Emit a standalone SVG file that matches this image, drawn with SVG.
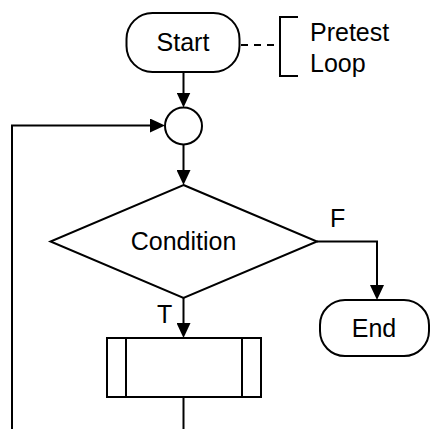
<svg xmlns="http://www.w3.org/2000/svg" width="430" height="429" viewBox="0 0 430 429">
<style>
.s{fill:#fff;stroke:#000;stroke-width:2}
.l{fill:none;stroke:#000;stroke-width:2}
.t{font-family:"Liberation Sans",Arial,sans-serif;font-size:25px;fill:#000}
.c{text-anchor:middle}
</style>
<defs>
<marker id="arr" viewBox="0 0 15 14" refX="11" refY="7" markerWidth="15" markerHeight="14" orient="auto" markerUnits="userSpaceOnUse">
<path d="M0,0 L15,7 L0,14 z" fill="#000"/>
</marker>
</defs>
<rect width="430" height="429" fill="#fff"/>
<g id="connectors">
<line class="l" x1="241" y1="45" x2="280" y2="45" stroke-dasharray="7 6"/>
<path class="l" d="M183.5,72 V103.5" marker-end="url(#arr)"/>
<path class="l" d="M183.5,144.5 V181" marker-end="url(#arr)"/>
<path class="l" d="M317,241.5 H377 V296" marker-end="url(#arr)"/>
<path class="l" d="M183.5,298 V334" marker-end="url(#arr)"/>
<path class="l" d="M183.5,397 V429"/>
<path class="l" d="M12,429 V125.5 H161" marker-end="url(#arr)"/>
</g>
<g id="start">
<rect class="s" x="126.5" y="13" width="113" height="59" rx="26" ry="26"/>
<text class="t c" x="183" y="51">Start</text>
</g>
<g id="annotation">
<path class="l" d="M298,17 H280 V76 H298"/>
<text class="t" x="310" y="41">Pretest</text>
<text class="t" x="310" y="72">Loop</text>
</g>
<g id="junction">
<circle class="s" cx="183.5" cy="126" r="18.5"/>
</g>
<g id="condition">
<polygon class="s" points="183.5,185 317,241.5 183.5,298 50.5,241.5"/>
<text class="t c" x="183.5" y="250">Condition</text>
</g>
<g id="labels">
<text class="t" x="330" y="227">F</text>
<text class="t" x="157" y="323">T</text>
</g>
<g id="end">
<rect class="s" x="320" y="300" width="109" height="56" rx="25" ry="25"/>
<text class="t c" x="374" y="337">End</text>
</g>
<g id="process">
<rect class="s" x="107" y="338" width="154" height="59"/>
<line class="l" x1="126" y1="338" x2="126" y2="397"/>
<line class="l" x1="242" y1="338" x2="242" y2="397"/>
</g>
</svg>
